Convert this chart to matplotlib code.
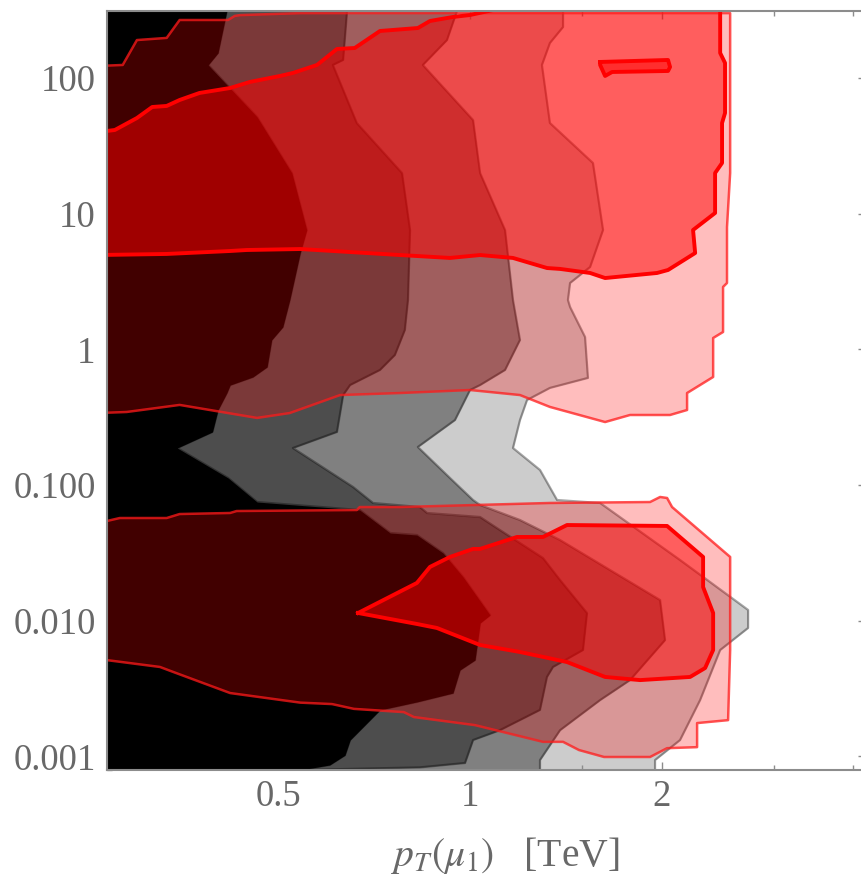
import matplotlib
matplotlib.use("Agg")
import matplotlib.pyplot as plt
from matplotlib.ticker import FixedLocator, NullFormatter

plt.rcParams['font.family'] = ['Liberation Serif', 'DejaVu Serif']
plt.rcParams['mathtext.fontset'] = 'stix'

# ---- grey bands: right-hand pT edge (TeV) of each band as a function of y ----
band1_y = [400, 311, 152.6, 124.5, 51.5, 19.9, 7.57, 5.12, 2.31, 1.46, 1.171, 0.741, 0.625, 0.545,
           0.476, 0.357, 0.246, 0.1873, 0.1126, 0.0749, 0.0654, 0.0443, 0.0428, 0.0315, 0.021,
           0.0110, 0.00962, 0.00513, 0.00433, 0.00293, 0.00252, 0.0022, 0.00132, 0.00102,
           0.000865, 0.000794, 0.0005]
band1_pt = [0.414, 0.414, 0.401, 0.387, 0.462, 0.524, 0.553, 0.540, 0.520, 0.507, 0.487, 0.479,
            0.455, 0.419, 0.414, 0.401, 0.393, 0.346, 0.416, 0.462, 0.670, 0.748, 0.824, 0.906,
            0.974, 1.074, 1.036, 1.017, 0.963, 0.939, 0.824, 0.721, 0.647, 0.635, 0.601, 0.540, 0.54]

band2_y = [400, 311, 135.5, 124.5, 46.5, 19.9, 7.57, 2.31, 1.388, 0.908, 0.704, 0.545, 0.460, 0.246,
           0.1873, 0.0967, 0.0737, 0.0688, 0.0622, 0.0581, 0.0466, 0.029, 0.01995, 0.0114, 0.00608,
           0.00456, 0.00385, 0.0022, 0.00156, 0.00132, 0.000894, 0.00083, 0.000794, 0.0005]
band2_pt = [0.640, 0.640, 0.631, 0.608, 0.663, 0.781, 0.804, 0.798, 0.789, 0.761, 0.721, 0.647,
            0.631, 0.617, 0.526, 0.654, 0.703, 0.833, 0.855, 1.036, 1.113, 1.301, 1.384, 1.526,
            1.504, 1.349, 1.320, 1.287, 1.113, 1.010, 0.981, 0.833, 0.540, 0.54]

band3_y = [400, 311, 190, 124.5, 48.9, 19.9, 7.57, 2.31, 1.171, 0.704, 0.545, 0.501, 0.301, 0.1906,
           0.1126, 0.0775, 0.0712, 0.0552, 0.0393, 0.0236, 0.0142, 0.0072, 0.00365, 0.0026,
           0.00156, 0.00094, 0.0005]
band3_pt = [0.953, 0.953, 0.919, 0.842, 1.010, 1.036, 1.134, 1.167, 1.197, 1.134, 1.036, 0.999,
            0.946, 0.827, 0.929, 1.010, 1.036, 1.197, 1.384, 1.659, 1.988, 2.024, 1.783, 1.600,
            1.384, 1.287, 1.287]

band4_y = [400, 311, 237, 180.7, 124.5, 46.5, 23.6, 7.57, 4.04, 3.08, 2.31, 2.05, 1.232, 0.615,
           0.519, 0.423, 0.301, 0.1873, 0.129, 0.0775, 0.0737, 0.028, 0.012, 0.00884, 0.00608,
           0.0026, 0.00132, 0.00094, 0.0005]
band4_pt = [1.399, 1.399, 1.399, 1.334, 1.296, 1.334, 1.559, 1.617, 1.543, 1.435, 1.424, 1.435,
            1.515, 1.531, 1.334, 1.228, 1.197, 1.167, 1.287, 1.369, 1.600, 2.137, 2.734, 2.734,
            2.471, 2.298, 2.137, 1.952, 1.952]

band_colors = ['#000000', '#4d4d4d', '#808080', '#cccccc']

# ---- red regions (closed outlines in pT [TeV], y) ----
upper_outer_pt = [0.26, 0.288, 0.349, 0.462, 0.520, 0.624, 0.775, 0.999, 1.197, 1.334, 1.629, 1.783,
                  2.061, 2.192, 2.192, 2.409, 2.409, 2.497, 2.497, 2.533, 2.533, 2.562, 2.562, 0.540,
                  0.434, 0.426, 0.416, 0.349, 0.333, 0.299, 0.284, 0.26]
upper_outer_y = [0.339, 0.345, 0.389, 0.312, 0.339, 0.460, 0.476, 0.501, 0.460, 0.376, 0.291, 0.328,
                 0.328, 0.357, 0.476, 0.625, 1.211, 1.341, 2.88, 3.08, 7.96, 19.9, 300, 300,
                 290, 286, 267, 267, 197, 190, 124.5, 122.4]

upper_inner_pt = [0.26, 0.276, 0.299, 0.316, 0.333, 0.349, 0.375, 0.419, 0.450, 0.502, 0.526, 0.574,
                  0.617, 0.658, 0.721, 0.827, 0.864, 0.939, 0.999, 1.085, 1.12, 2.471, 2.471, 2.471,
                  2.515, 2.515, 2.488, 2.488, 2.426, 2.426, 2.240, 2.257, 2.046, 1.966, 1.629, 1.543,
                  1.384, 1.320, 1.167, 1.036, 0.929, 0.775, 0.540, 0.445, 0.419, 0.333, 0.26]
upper_inner_y = [39.9, 41.3, 50.6, 61.0, 62.1, 68.7, 77.4, 84.2, 93.3, 103.3, 108.7, 124.5, 163.3,
                 166, 221.6, 233, 262.5, 281, 290.6, 316, 400, 400, 311, 152.6, 128.8, 55.1, 46.5,
                 23.6, 19.9, 10.1, 7.57, 5.12, 3.84, 3.65, 3.35, 3.65, 3.91, 3.97, 4.71, 4.95, 4.71,
                 4.95, 5.48, 5.39, 5.30, 5.04, 4.95]

island_pt = [1.600, 2.046, 2.061, 2.046, 1.671, 1.629, 1.600]
island_y = [131, 135.5, 120.3, 112.4, 110.5, 103.3, 124.5]

lower_outer_pt = [0.26, 0.281, 0.333, 0.349, 0.419, 0.429, 0.663, 0.670, 0.775, 1.334, 1.917, 1.988,
                  2.039, 2.076, 2.562, 2.562, 2.543, 2.273, 2.273, 2.039, 1.917, 1.623, 1.482, 1.399,
                  1.301, 1.017, 0.815, 0.786, 0.656, 0.606, 0.540, 0.419, 0.341, 0.325, 0.26]
lower_outer_y = [0.0525, 0.0571, 0.0571, 0.0611, 0.0622, 0.0643, 0.0654, 0.0688, 0.0688, 0.0737,
                 0.0749, 0.0816, 0.0802, 0.0688, 0.0295, 0.00608, 0.00185, 0.00176, 0.00117,
                 0.00115, 0.00099, 0.00099, 0.001114, 0.00128, 0.00128, 0.0017, 0.00195, 0.00212,
                 0.00224, 0.00243, 0.00249, 0.00293, 0.00419, 0.00456, 0.00522]

lower_inner_pt = [0.666, 0.824, 0.864, 0.929, 1.010, 1.036, 1.184, 1.301, 1.419, 2.039, 2.323, 2.323,
                  2.409, 2.409, 2.34, 2.216, 1.849, 1.629, 1.419, 1.197, 1.036, 0.886, 0.824]
lower_inner_y = [0.0114, 0.01897, 0.0249, 0.0295, 0.0338, 0.0338, 0.0414, 0.0414, 0.0507, 0.0499,
                 0.0295, 0.0177, 0.0114, 0.00608, 0.00448, 0.00385, 0.00365, 0.00385, 0.00496,
                 0.00588, 0.00662, 0.00884, 0.00946]

# ---- axes ----
x_range = (0.268, 4.19)
y_range = (7.94e-4, 311)
y_major = [0.001, 0.01, 0.1, 1, 10, 100]
y_major_labels = ['0.001', '0.010', '0.100', '1', '10', '100']
x_major = [0.5, 1, 2]
x_major_labels = ['0.5', '1', '2']
x_minor = [0.3, 0.4, 0.6, 0.7, 0.8, 0.9, 1.5, 3, 4]
y_minor = [k * 10.0 ** e for e in range(-4, 3) for k in range(2, 10)]

fig = plt.figure(figsize=(8.61, 8.76), dpi=100)
W, H = 861, 876
ax = fig.add_axes([106.7 / W, (H - 770) / H, (866 - 106.7) / W, (770 - 11) / H])
ax.set_xscale('log')
ax.set_yscale('log')

# grey bands, widest first
for k, (yy, xx) in enumerate(reversed([(band1_y, band1_pt), (band2_y, band2_pt),
                                       (band3_y, band3_pt), (band4_y, band4_pt)])):
    col = band_colors[3 - k]
    ax.fill_betweenx(yy, 0.2, xx, color=col, lw=0, zorder=1 + k)
    ax.plot(xx, yy, color='black', alpha=0.35, lw=1.6, zorder=1.5 + k, solid_joinstyle='round')

# red regions
a_out, a_in = 0.26, 0.50
for px, py in [(upper_outer_pt, upper_outer_y), (lower_outer_pt, lower_outer_y)]:
    ax.fill(px, py, color='red', alpha=a_out, lw=0, zorder=10)
for px, py in [(upper_inner_pt, upper_inner_y), (lower_inner_pt, lower_inner_y)]:
    ax.fill(px, py, color='red', alpha=a_in, lw=0, zorder=11)
ax.fill(island_pt, island_y, color='red', alpha=0.5, lw=0, zorder=12)

for px, py in [(upper_outer_pt, upper_outer_y), (lower_outer_pt, lower_outer_y)]:
    ax.plot(px + px[:1], py + py[:1], color='#ff1a1a', alpha=0.75, lw=1.8, zorder=13,
            solid_joinstyle='round')
for px, py in [(upper_inner_pt, upper_inner_y), (lower_inner_pt, lower_inner_y),
               (island_pt, island_y)]:
    ax.plot(px + px[:1], py + py[:1], color='#ff0000', lw=2.8, zorder=14,
            solid_joinstyle='round')

ax.set_xlim(*x_range)
ax.set_ylim(*y_range)

ax.xaxis.set_major_locator(FixedLocator(x_major))
ax.set_xticklabels(x_major_labels)
ax.xaxis.set_minor_locator(FixedLocator(x_minor))
ax.xaxis.set_minor_formatter(NullFormatter())
ax.yaxis.set_major_locator(FixedLocator(y_major))
ax.set_yticklabels(y_major_labels)
ax.yaxis.set_minor_locator(FixedLocator(y_minor))
ax.yaxis.set_minor_formatter(NullFormatter())

grey = '#8c8c8c'
for s in ax.spines.values():
    s.set_color(grey)
    s.set_linewidth(1.5)
    s.set_zorder(20)
ax.tick_params(which='both', direction='in', top=True, right=True, color=grey,
               labelcolor='#686868', labelsize=26.5, width=1.0, zorder=20)
ax.tick_params(which='major', length=6)
ax.tick_params(which='minor', length=3.6)
ax.tick_params(axis='y', pad=8)
ax.tick_params(axis='x', pad=7)

fig.text(505 / W, (H - 855) / H, r'$p_T(\mu_1)$   [TeV]', ha='center', va='center',
         fontsize=28.5, color='#686868')

fig.savefig('out.png', dpi=100)
